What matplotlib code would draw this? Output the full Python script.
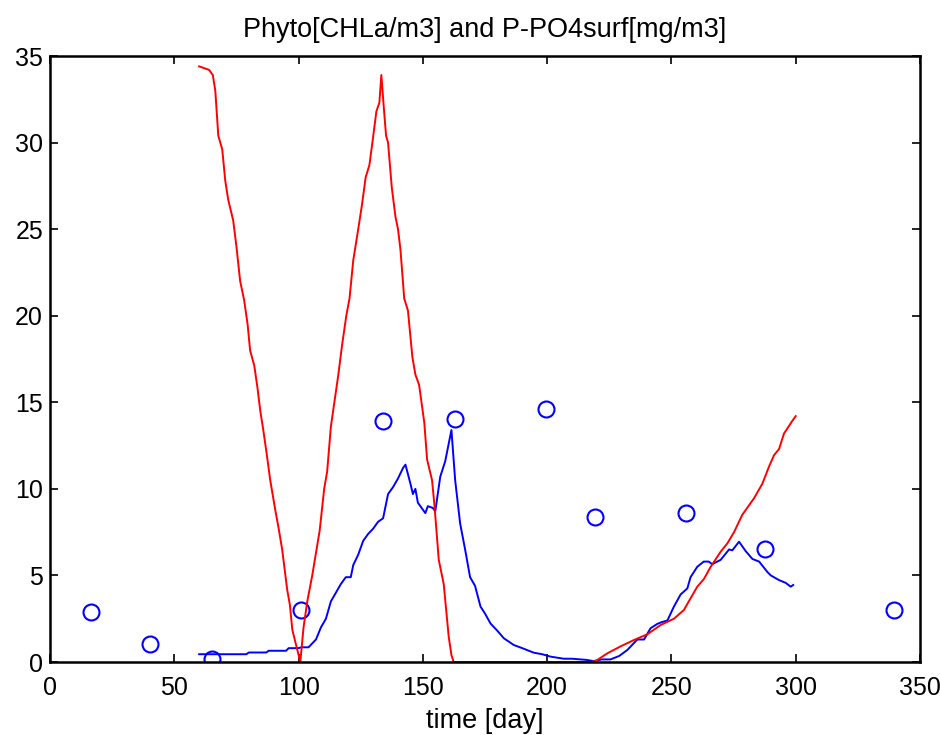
import numpy as np
import matplotlib.pyplot as plt

plt.rcParams['font.family'] = ['Liberation Sans', 'DejaVu Sans']

# P-PO4 surface (red line)
po4_day = [60, 62, 64, 65.5, 66.5, 67.7, 69.3, 70.5, 71.7, 73.7, 75, 76.5, 78.1, 79.5,
           80.5, 82.2, 83.5, 84.6, 85.8, 87.2, 88.6, 90.6, 92, 93.4, 95.4, 96.5, 97.5,
           99.5, 100.7, 102, 103.5, 105.5, 107, 108.5, 110.3, 111.5, 113, 114.4, 116,
           117.5, 119.2, 120.5, 122, 124, 125.5, 127, 128.5, 129.7, 131.3, 132.5, 133.3,
           134.3, 135.2, 136, 137.5, 139, 140, 141, 142.5, 144, 145.8, 147, 148.5,
           150.6, 151.7, 153.7, 154.7, 156.4, 158.4, 160.4, 161.5, 162.4, 163, 180, 200,
           215, 218, 220, 224.2, 229.5, 234.9, 240.3, 245.7, 251, 255, 257.7, 260.4,
           263.1, 265.8, 269.8, 272.5, 275.2, 278.5, 283.2, 286.6, 289.3, 291.3, 293.3,
           295.3, 296.7, 298.5, 300]
po4_val = [34.4, 34.3, 34.2, 33.9, 33.0, 30.4, 29.6, 27.8, 26.7, 25.5, 24.0, 22.0, 20.9,
           19.5, 18.0, 17.1, 15.8, 14.5, 13.4, 12.0, 10.5, 8.8, 7.7, 6.5, 4.2, 3.3, 1.85,
           0.7, 0.0, 2.0, 3.5, 5.0, 6.3, 7.6, 10.0, 11.0, 13.6, 15.0, 16.6, 18.3, 20.0,
           21.0, 23.2, 25.0, 26.4, 28.0, 28.7, 30.0, 31.8, 32.3, 33.9, 32.0, 30.4, 30.0,
           27.4, 25.7, 25.0, 23.8, 21.0, 20.3, 17.6, 16.6, 16.0,
           13.8, 11.7, 10.5, 9.0, 5.9, 4.5, 1.46, 0.4, 0.0, 0.0, 0.0, 0.0, 0.0, 0.0, 0.1,
           0.5, 0.9, 1.27, 1.6, 2.14, 2.5, 3.0, 3.68, 4.35, 4.8, 5.5, 6.37, 6.85, 7.5, 8.5,
           9.45, 10.3, 11.3, 11.95, 12.3, 13.2, 13.5, 13.9, 14.2]

# Phyto CHLa (blue line)
chl_day = [60, 79, 80, 87, 88, 95, 96, 100, 101, 104, 105, 107, 109, 111, 113, 115, 117,
           119, 121, 122, 124, 126, 128, 130, 132, 134, 136, 138, 140, 142, 143, 145, 146,
           147, 148, 150, 151, 152, 154, 155, 157, 159, 161.5, 163, 165, 167, 169, 171,
           173.2, 175, 177.2, 180, 182.6, 186.6, 190, 194.6, 198, 201.4, 206.7, 210, 216,
           218.8, 222, 225.5, 229, 232.3, 236.3, 239, 241.6, 244.3, 246, 248.4, 251, 253.7,
           256.4, 257.7, 260.4, 263, 265, 266.4, 269.8, 273.2, 274.5, 277.2, 279.9, 282.6,
           285.3, 288.6, 290, 293.3, 296, 298, 299]
chl_val = [0.45, 0.45, 0.55, 0.55, 0.65, 0.65, 0.8, 0.8, 0.85, 0.85, 1.0, 1.3, 2.0, 2.5,
           3.5, 4.0, 4.5, 4.9, 4.9, 5.6, 6.2, 7.0, 7.4, 7.7, 8.1, 8.3, 9.7, 10.1, 10.6,
           11.2, 11.4, 10.3, 9.7, 10.0, 9.2, 8.8, 8.6, 9.0, 8.9, 8.7, 10.7, 11.6, 13.4,
           10.5, 8.0, 6.5, 4.9, 4.4, 3.2, 2.8, 2.23, 1.8, 1.37, 0.98, 0.8, 0.54, 0.45, 0.31,
           0.19, 0.19, 0.12, 0.05, 0.15, 0.15, 0.35, 0.7, 1.3, 1.3, 1.95, 2.2, 2.3, 2.4,
           3.2, 3.9, 4.25, 4.9, 5.5, 5.8, 5.8, 5.65, 5.9, 6.5, 6.45, 6.95, 6.4, 5.95, 5.8,
           5.2, 5.0, 4.73, 4.57, 4.35, 4.45]

# observations (blue circles)
obs_day = [16.5, 40.3, 65.2, 101.1, 134.1, 163.1, 199.4, 219.1, 255.7, 287.6, 339.5]
obs_val = [2.9, 1.04, 0.17, 3.0, 13.9, 14.03, 14.6, 8.37, 8.6, 6.5, 3.0]

fig = plt.figure(figsize=(9.4, 7.35), dpi=100)
ax = fig.add_axes([0.0532, 0.0993, 0.9255, 0.8245])

ax.plot(chl_day, chl_val, color='#0000ff', lw=1.4)
ax.plot(obs_day, obs_val, 'o', mfc='none', mec='#0000ff', mew=1.5, ms=11.5)
ax.plot(po4_day, po4_val, color='#ff0000', lw=1.4)

ax.set_xlim(0, 350)
ax.set_ylim(0, 35)
ax.set_xticks(np.arange(0, 351, 50))
ax.set_yticks(np.arange(0, 36, 5))
ax.tick_params(direction='in', top=True, right=True, length=6, width=1.2,
               labelsize=18, pad=5)
ax.tick_params(axis='x', pad=10)
for s in ax.spines.values():
    s.set_linewidth(1.8)

ax.set_title('Phyto[CHLa/m3] and P-PO4surf[mg/m3]', fontsize=19.5, pad=14)
ax.set_xlabel('time [day]', fontsize=19.5, labelpad=6)

fig.savefig('out.png', dpi=100)
